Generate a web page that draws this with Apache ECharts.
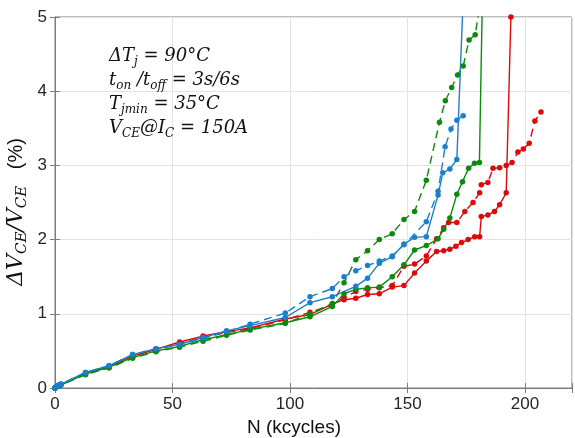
<!DOCTYPE html>
<html>
<head>
<meta charset="utf-8">
<script src="https://cdn.jsdelivr.net/npm/echarts@6/dist/echarts.min.js"></script>
<style>html,body{margin:0;padding:0;background:#fff}#c{width:575px;height:438px}</style>
</head>
<body>
<div id="c"></div>
<script>
// ---- data (N in kcycles, value in %) ----
const earlyN = [0, 0.8, 1.6, 2.5, 13, 23, 33, 43, 53, 63, 73, 83, 98];

const redSolidN = earlyN.concat([108.5, 118, 123, 128, 133, 138, 143.5, 148.5, 153, 158, 162.4, 165.4, 168, 170.6, 173, 175.8, 178.6, 180.7, 181.4, 184.2, 187, 189.2, 192, 194]);
const redSolidV = [0, 0.02, 0.03, 0.05, 0.20, 0.29, 0.43, 0.52, 0.62, 0.70, 0.76, 0.81, 0.93,
  0.99, 1.13, 1.19, 1.21, 1.26, 1.27, 1.36, 1.38, 1.55, 1.71, 1.84, 1.85, 1.87, 1.91, 1.96, 2.00, 2.04, 2.04, 2.31, 2.33, 2.38, 2.47, 2.63, 5.00];

const redDashN = earlyN.concat([108.5, 118, 123, 128, 133, 138, 143.5, 148.5, 153, 158, 162.4, 165.4, 167.5, 171, 174.4, 177.9, 180.7, 181.4, 184.2, 186.4, 189.2, 192, 194.5, 197, 199.3, 201.8, 204.2, 206.8]);
const redDashV = [0, 0.02, 0.03, 0.05, 0.20, 0.29, 0.43, 0.52, 0.60, 0.68, 0.75, 0.80, 0.92,
  1.02, 1.12, 1.22, 1.30, 1.33, 1.35, 1.38, 1.64, 1.67, 1.78, 2.01, 2.16, 2.23, 2.23, 2.38, 2.50, 2.63, 2.74, 2.77, 2.96, 2.97, 3.00, 3.04, 3.18, 3.22, 3.30, 3.60, 3.72];

const greenSolidN = earlyN.concat([108.5, 118, 123, 128, 133, 138, 143.5, 148.5, 153, 158, 163, 165.4, 168, 171, 173.4, 176, 178.5, 180.6, 182]);
const greenSolidV = [0, 0.02, 0.03, 0.04, 0.19, 0.28, 0.41, 0.50, 0.56, 0.65, 0.72, 0.79, 0.88,
  0.96, 1.10, 1.27, 1.33, 1.35, 1.36, 1.50, 1.66, 1.86, 1.92, 2.01, 2.14, 2.29, 2.61, 2.78, 2.96, 3.03, 3.04, 5.50];

const greenDashN = earlyN.concat([108.5, 118, 123, 128, 133, 138, 143.5, 148.5, 153, 158, 163.6, 166.1, 168.8, 171.3, 173.7, 176.2, 178.8, 181]);
const greenDashV = [0, 0.02, 0.03, 0.04, 0.18, 0.27, 0.40, 0.49, 0.55, 0.63, 0.71, 0.78, 0.87,
  1.00, 1.14, 1.42, 1.73, 1.85, 2.00, 2.08, 2.27, 2.38, 2.80, 3.58, 3.87, 4.05, 4.22, 4.34, 4.69, 4.76, 5.20];

const blueSolidN = earlyN.concat([108.5, 118, 128, 133, 138, 143.5, 148.5, 153, 158, 163, 165, 168, 171, 174]);
const blueSolidV = [0, 0.02, 0.04, 0.05, 0.21, 0.30, 0.45, 0.53, 0.59, 0.68, 0.77, 0.84, 0.95,
  1.15, 1.23, 1.37, 1.48, 1.68, 1.77, 1.94, 2.03, 2.04, 2.60, 2.90, 2.95, 3.08, 5.50];

const blueDashN = earlyN.concat([108.5, 118, 123, 128, 133, 138, 143.5, 148.5, 158, 163, 166, 168.5, 171, 173.7]);
const blueDashV = [0, 0.02, 0.04, 0.05, 0.21, 0.30, 0.45, 0.53, 0.58, 0.67, 0.76, 0.86, 1.01,
  1.23, 1.34, 1.50, 1.58, 1.65, 1.71, 1.78, 1.93, 2.24, 2.65, 3.25, 3.49, 3.61, 3.67];

const xTicks = [0, 50, 100, 150, 200];
const yTicks = [0, 1, 2, 3, 4, 5];

const RED = '#dc0a0a', GREEN = '#0b8a0b', BLUE = '#1a7fcf';

function pairs(n, v) { return n.map((x, i) => [x, v[i]]); }
function mk(name, n, v, color, dashed) {
  return {
    name: name, type: 'line', data: pairs(n, v), color: color,
    symbol: 'circle', symbolSize: 5.5, clip: true,
    lineStyle: { width: 1.4, type: dashed ? [8, 5] : 'solid', color: color },
    itemStyle: { color: color }, animation: false, z: 3
  };
}

const chart = echarts.init(document.getElementById('c'), null, { renderer: 'canvas' });
const axisColor = '#7c7c7c';
const labelStyle = { fontFamily: 'Liberation Sans, Arial, sans-serif', fontSize: 17, color: '#262626' };
const mathFont = 'DejaVu Serif, serif';

chart.setOption({
  animation: false,
  grid: { left: 55, right: 0, top: 17, bottom: 50, show: true, borderColor: axisColor, borderWidth: 1 },
  xAxis: [{
    type: 'value', min: 0, max: 220, interval: 50,
    axisLine: { show: true, lineStyle: { color: axisColor } },
    axisTick: { show: true, inside: true, length: 5, lineStyle: { color: axisColor } },
    axisLabel: Object.assign({ margin: 8, formatter: v => xTicks.includes(v) ? String(v) : '' }, labelStyle),
    splitLine: { show: true, lineStyle: { color: '#e3e3e3' } }
  }, {
    type: 'value', min: 0, max: 220, interval: 50, position: 'top',
    axisLine: { show: false }, axisLabel: { show: false }, splitLine: { show: false },
    axisTick: { show: true, inside: true, length: 5, lineStyle: { color: axisColor } }
  }],
  yAxis: [{
    type: 'value', min: 0, max: 5, interval: 1,
    axisLine: { show: true, lineStyle: { color: axisColor } },
    axisTick: { show: true, inside: true, length: 5, lineStyle: { color: axisColor } },
    axisLabel: Object.assign({ margin: 8, formatter: v => yTicks.includes(v) ? String(v) : '' }, labelStyle),
    splitLine: { show: true, lineStyle: { color: '#e3e3e3' } }
  }, {
    type: 'value', min: 0, max: 5, interval: 1, position: 'right',
    axisLine: { show: false }, axisLabel: { show: false }, splitLine: { show: false },
    axisTick: { show: true, inside: true, length: 5, lineStyle: { color: axisColor } }
  }],
  series: [
    mk('red solid', redSolidN, redSolidV, RED, false),
    mk('red dashed', redDashN, redDashV, RED, true),
    mk('green solid', greenSolidN, greenSolidV, GREEN, false),
    mk('green dashed', greenDashN, greenDashV, GREEN, true),
    mk('blue solid', blueSolidN, blueSolidV, BLUE, false),
    mk('blue dashed', blueDashN, blueDashV, BLUE, true)
  ],
  graphic: [
    {
      type: 'text', left: 109, top: 47, z: 10,
      style: {
        text: '{m|ΔT}{s|j}{m| = 90°C}\n{m|t}{s|on}{m| /t}{s|off}{m| = 3s/6s}\n{m|T}{s|jmin}{m| = 35°C}\n{m|V}{s|CE}{m|@I}{s|C}{m| = 150A}',
        rich: {
          m: { fontFamily: mathFont, fontStyle: 'italic', fontSize: 18, lineHeight: 24, verticalAlign: 'middle', fill: '#111' },
          s: { fontFamily: mathFont, fontStyle: 'italic', fontSize: 12, lineHeight: 12, verticalAlign: 'bottom', fill: '#111' }
        }
      }
    },
    {
      type: 'text', x: 16, y: 212, rotation: Math.PI / 2, z: 10,
      style: {
        text: '{m|ΔV}{s|CE}{m|/V}{s|CE}{p|   (%)}',
        align: 'center', verticalAlign: 'middle',
        rich: {
          m: { fontFamily: mathFont, fontStyle: 'italic', fontSize: 22, lineHeight: 28, verticalAlign: 'middle', fill: '#111' },
          s: { fontFamily: mathFont, fontStyle: 'italic', fontSize: 15, lineHeight: 15, verticalAlign: 'bottom', fill: '#111' },
          p: { fontFamily: 'Liberation Sans, Arial, sans-serif', fontSize: 20, lineHeight: 28, verticalAlign: 'middle', fill: '#111' }
        }
      }
    },
    {
      type: 'text', x: 294, y: 428, z: 10,
      style: {
        text: 'N (kcycles)', align: 'center', verticalAlign: 'middle',
        fontFamily: 'Liberation Sans, Arial, sans-serif', fontSize: 19, fill: '#111'
      }
    }
  ]
});
</script>
</body>
</html>
